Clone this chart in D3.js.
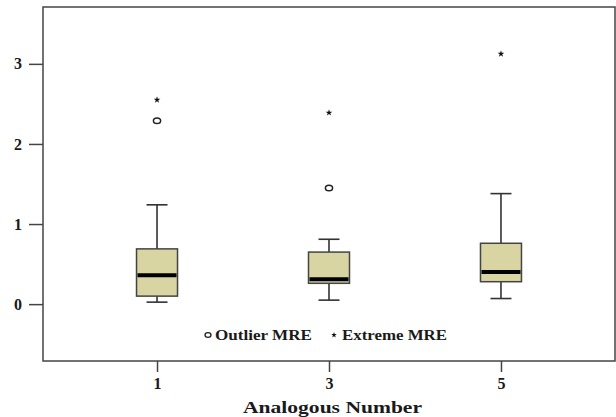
<!DOCTYPE html>
<html>
<head>
<meta charset="utf-8">
<script src="https://cdn.jsdelivr.net/npm/d3@7"></script>
<style>
  html, body { margin: 0; padding: 0; background: #fff; }
  svg { display: block; }
  text { font-family: "Liberation Serif", "Times New Roman", serif; font-weight: bold; fill: #1a1a1a; }
</style>
</head>
<body>
<svg id="chart" width="616" height="417"></svg>
<script>
// Box-plot summaries of MRE for each analogous number
const categories = ["1", "3", "5"];
const lowerWhisker = [0.025, 0.05, 0.07];
const q1 = [0.10, 0.26, 0.28];
const median = [0.36, 0.31, 0.40];
const q3 = [0.69, 0.65, 0.76];
const upperWhisker = [1.24, 0.81, 1.38];
const outliers = [[2.29], [1.45], []];
const extremes = [[2.55], [2.39], [3.125]];
const yTicks = [0, 1, 2, 3];

const svg = d3.select("#chart");
const margin = { left: 43, top: 7, right: 1, bottom: 56 };
const W = 616, H = 417;

const x = d3.scalePoint().domain(categories)
  .range([margin.left, W - margin.right]).padding(0.663);
const y = d3.scaleLinear().domain([-0.71, 3.71])
  .range([H - margin.bottom, margin.top]);

const plot = svg.append("g");

// frame
plot.append("rect")
  .attr("x", margin.left).attr("y", margin.top)
  .attr("width", W - margin.right - margin.left)
  .attr("height", H - margin.bottom - margin.top)
  .attr("fill", "none").attr("stroke", "#444").attr("stroke-width", 1.5);

// y axis
const yAxis = svg.append("g")
  .attr("transform", `translate(${margin.left},0)`)
  .call(d3.axisLeft(y).tickValues(yTicks).tickFormat(d3.format("d")).tickSize(14).tickPadding(7));
yAxis.select(".domain").remove();
yAxis.selectAll("line").attr("stroke", "#444").attr("stroke-width", 1.5);
yAxis.selectAll("text").style("font-size", "16px").attr("fill", "#1a1a1a");

// x axis
const xAxis = svg.append("g")
  .attr("transform", `translate(0,${H - margin.bottom})`)
  .call(d3.axisBottom(x).tickSize(11).tickPadding(6));
xAxis.select(".domain").remove();
xAxis.selectAll("line").attr("stroke", "#444").attr("stroke-width", 1.5);
xAxis.selectAll("text").style("font-size", "16px").attr("fill", "#1a1a1a");

// axis title
svg.append("text")
  .attr("x", (243 + 422) / 2).attr("y", 413)
  .attr("text-anchor", "middle")
  .attr("textLength", 179).attr("lengthAdjust", "spacingAndGlyphs")
  .style("font-size", "17px")
  .text("Analogous Number");

// boxes
const boxW = 41, capW = 21;
const data = categories.map((c, i) => ({
  c, lw: lowerWhisker[i], q1: q1[i], med: median[i], q3: q3[i], uw: upperWhisker[i],
  out: outliers[i], ext: extremes[i]
}));

const g = plot.selectAll("g.box").data(data).join("g").attr("class", "box");

// whiskers
g.append("line")
  .attr("x1", d => x(d.c)).attr("x2", d => x(d.c))
  .attr("y1", d => y(d.uw)).attr("y2", d => y(d.q3))
  .attr("stroke", "#333").attr("stroke-width", 1.6);
g.append("line")
  .attr("x1", d => x(d.c)).attr("x2", d => x(d.c))
  .attr("y1", d => y(d.q1)).attr("y2", d => y(d.lw))
  .attr("stroke", "#333").attr("stroke-width", 1.6);
g.append("line")
  .attr("x1", d => x(d.c) - capW / 2).attr("x2", d => x(d.c) + capW / 2)
  .attr("y1", d => y(d.uw)).attr("y2", d => y(d.uw))
  .attr("stroke", "#333").attr("stroke-width", 1.6);
g.append("line")
  .attr("x1", d => x(d.c) - capW / 2).attr("x2", d => x(d.c) + capW / 2)
  .attr("y1", d => y(d.lw)).attr("y2", d => y(d.lw))
  .attr("stroke", "#333").attr("stroke-width", 1.6);

// box
g.append("rect")
  .attr("x", d => x(d.c) - boxW / 2).attr("width", boxW)
  .attr("y", d => y(d.q3)).attr("height", d => y(d.q1) - y(d.q3))
  .attr("fill", "#d9d5a2").attr("stroke", "#444").attr("stroke-width", 1.5);

// median
g.append("line")
  .attr("x1", d => x(d.c) - boxW / 2 + 1).attr("x2", d => x(d.c) + boxW / 2 - 1)
  .attr("y1", d => y(d.med)).attr("y2", d => y(d.med))
  .attr("stroke", "#000").attr("stroke-width", 4);

// outliers (open circles)
g.selectAll("ellipse.out").data(d => d.out.map(v => ({ c: d.c, v }))).join("ellipse")
  .attr("class", "out")
  .attr("cx", d => x(d.c)).attr("cy", d => y(d.v))
  .attr("rx", 3.6).attr("ry", 2.8)
  .attr("fill", "none").attr("stroke", "#222").attr("stroke-width", 1.5);

// extremes (asterisks)
g.selectAll("path.ext").data(d => d.ext.map(v => ({ c: d.c, v }))).join("path")
  .attr("class", "ext")
  .attr("transform", d => `translate(${x(d.c)},${y(d.v)})`)
  .attr("d", d3.symbol(d3.symbolStar, 14))
  .attr("fill", "#111");

// legend
const leg = svg.append("g");
leg.append("ellipse").attr("cx", 208).attr("cy", 335).attr("rx", 3).attr("ry", 2.4)
  .attr("fill", "none").attr("stroke", "#222").attr("stroke-width", 1.3);
leg.append("text").attr("x", 215).attr("y", 340).style("font-size", "14px")
  .attr("textLength", 97).attr("lengthAdjust", "spacingAndGlyphs")
  .text("Outlier MRE");
leg.append("path").attr("transform", "translate(334,335)")
  .attr("d", d3.symbol(d3.symbolStar, 10)).attr("fill", "#111");
leg.append("text").attr("x", 342).attr("y", 340).style("font-size", "14px")
  .attr("textLength", 105).attr("lengthAdjust", "spacingAndGlyphs")
  .text("Extreme MRE");
</script>
</body>
</html>
